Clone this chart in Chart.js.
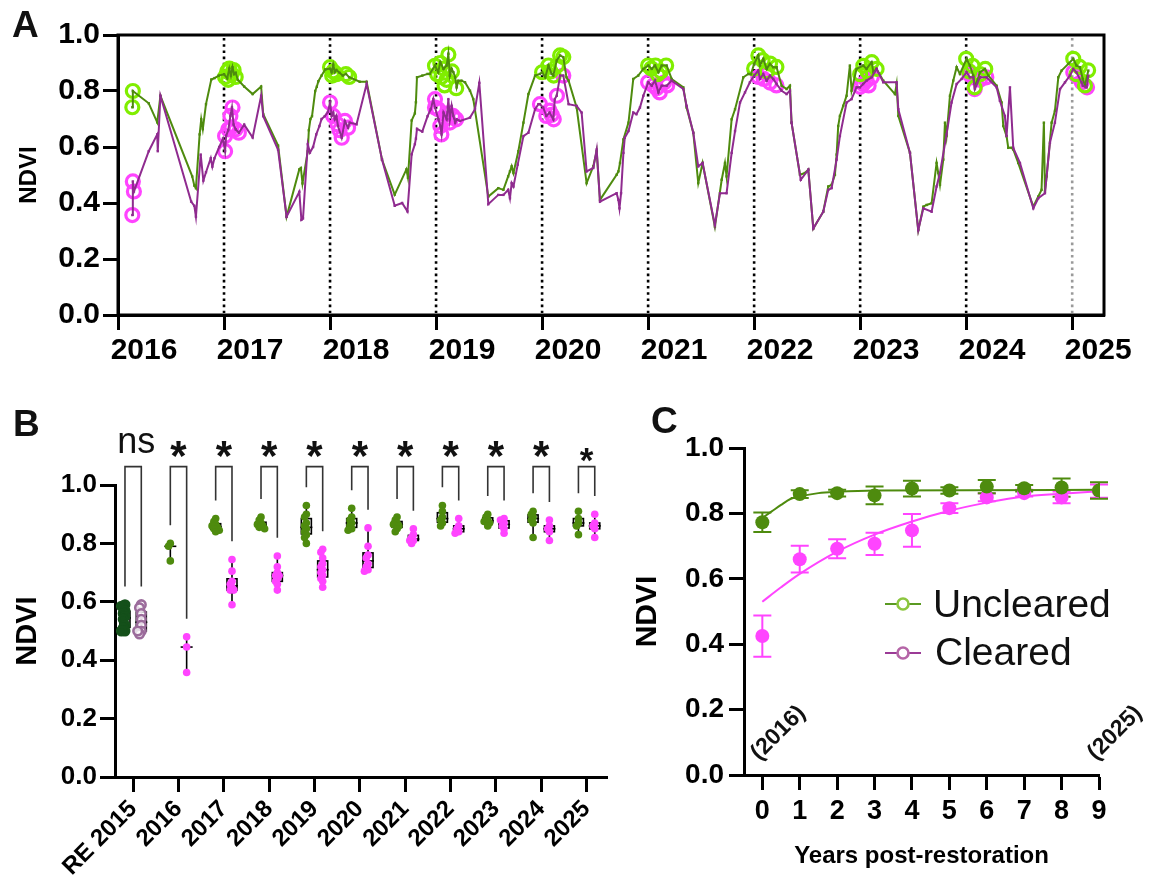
<!DOCTYPE html>
<html>
<head>
<meta charset="utf-8">
<title>NDVI recovery</title>
<script src="https://cdn.jsdelivr.net/npm/chart.js@4.4.1/dist/chart.umd.min.js"></script>
<style>
  html, body { margin:0; padding:0; background:#ffffff; }
  body { width:1157px; height:888px; position:relative; overflow:hidden; }
  canvas { position:absolute; display:block; }
</style>
</head>
<body>
<canvas id="chartA" width="1157" height="380" style="left:0;top:0;width:1157px;height:380px"></canvas>
<canvas id="chartB" width="615" height="508" style="left:0;top:380px;width:615px;height:508px"></canvas>
<canvas id="chartC" width="542" height="508" style="left:615px;top:380px;width:542px;height:508px"></canvas>
<script>
// ===================== DATA =====================
// Panel A – NDVI time series [decimal year, NDVI]
const unclearedSeries = [
  [2016.135,0.742],[2016.14,0.80],[2016.29,0.756],[2016.37,0.688],[2016.40,0.783],
  [2016.70,0.495],[2016.72,0.462],[2016.735,0.453],[2016.77,0.645],[2016.785,0.699],[2016.80,0.664],[2016.83,0.753],[2016.88,0.841],[2016.91,0.846],[2016.95,0.855],
  [2017.0,0.86],[2017.03,0.845],[2017.05,0.88],[2017.065,0.855],[2017.08,0.885],[2017.095,0.86],[2017.11,0.865],[2017.13,0.84],
  [2017.19,0.816],[2017.27,0.789],[2017.35,0.816],[2017.37,0.717],[2017.51,0.605],[2017.59,0.351],[2017.71,0.52],[2017.725,0.525],[2017.74,0.47],
  [2017.79,0.585],[2017.80,0.66],[2017.815,0.70],[2017.83,0.71],[2017.86,0.80],[2017.875,0.815],[2017.89,0.835],[2017.92,0.855],[2017.955,0.877],
  [2018.0,0.88],[2018.015,0.867],[2018.03,0.894],[2018.045,0.867],[2018.06,0.875],[2018.09,0.865],[2018.12,0.855],[2018.15,0.861],[2018.18,0.849],[2018.28,0.833],[2018.345,0.833],
  [2018.49,0.555],[2018.61,0.43],[2018.72,0.52],[2018.735,0.49],[2018.77,0.695],[2018.80,0.72],[2018.81,0.76],[2018.82,0.849],[2018.87,0.855],[2018.92,0.861],
  [2018.94,0.861],[2018.99,0.891],[2019.02,0.867],[2019.04,0.903],[2019.07,0.879],[2019.10,0.891],[2019.116,0.933],[2019.13,0.855],[2019.147,0.879],[2019.163,0.867],[2019.18,0.849],[2019.194,0.813],[2019.21,0.837],[2019.24,0.837],[2019.273,0.831],[2019.32,0.801],[2019.351,0.771],
  [2019.493,0.423],[2019.587,0.453],[2019.635,0.447],[2019.68,0.495],[2019.697,0.513],[2019.713,0.531],[2019.73,0.507],[2019.776,0.585],[2019.824,0.687],[2019.871,0.789],[2019.934,0.855],[2019.98,0.861],
  [2020.0,0.867],[2020.03,0.849],[2020.06,0.891],[2020.09,0.861],[2020.106,0.855],[2020.138,0.909],[2020.17,0.927],[2020.20,0.921],[2020.23,0.849],[2020.25,0.837],[2020.326,0.741],[2020.42,0.471],[2020.483,0.531],[2020.515,0.585],[2020.546,0.411],[2020.703,0.501],[2020.72,0.513],[2020.735,0.543],[2020.767,0.627],[2020.815,0.687],[2020.86,0.843],[2020.907,0.855],[2020.955,0.879],
  [2021.002,0.891],[2021.034,0.879],[2021.065,0.891],[2021.097,0.867],[2021.128,0.891],[2021.175,0.891],[2021.222,0.843],[2021.332,0.813],[2021.363,0.741],[2021.426,0.651],[2021.473,0.471],[2021.514,0.543],[2021.63,0.315],[2021.694,0.483],[2021.725,0.543],[2021.74,0.495],[2021.788,0.699],[2021.82,0.735],[2021.898,0.849],[2021.945,0.861],
  [2021.97,0.86],[2022.0,0.897],[2022.039,0.927],[2022.055,0.891],[2022.086,0.915],[2022.118,0.879],[2022.149,0.897],[2022.18,0.885],[2022.212,0.885],[2022.259,0.819],[2022.306,0.807],[2022.338,0.819],[2022.353,0.687],[2022.432,0.501],[2022.479,0.507],[2022.511,0.519],[2022.558,0.309],[2022.652,0.369],[2022.699,0.459],[2022.731,0.465],[2022.762,0.501],[2022.778,0.573],[2022.793,0.675],[2022.809,0.711],[2022.84,0.747],[2022.872,0.783],[2022.903,0.891],[2022.919,0.801],[2022.966,0.879],
  [2023.029,0.891],[2023.06,0.879],[2023.108,0.903],[2023.125,0.867],[2023.155,0.879],[2023.218,0.837],[2023.328,0.789],[2023.344,0.825],[2023.36,0.711],[2023.47,0.579],[2023.548,0.303],[2023.596,0.387],[2023.627,0.393],[2023.674,0.399],[2023.721,0.543],[2023.737,0.507],[2023.753,0.465],[2023.784,0.555],[2023.80,0.687],[2023.815,0.639],[2023.847,0.783],[2023.878,0.837],[2023.91,0.885],[2023.941,0.861],
  [2024.004,0.915],[2024.035,0.891],[2024.067,0.855],[2024.082,0.813],[2024.13,0.867],[2024.177,0.879],[2024.21,0.855],[2024.287,0.819],[2024.334,0.759],[2024.35,0.675],[2024.381,0.639],[2024.397,0.597],[2024.428,0.597],[2024.444,0.591],[2024.491,0.543],[2024.633,0.387],[2024.68,0.423],[2024.711,0.447],[2024.733,0.687],[2024.743,0.441],[2024.759,0.495],[2024.806,0.687],[2024.837,0.729],[2024.869,0.849],[2024.90,0.873],[2024.963,0.897],
  [2025.01,0.915],[2025.04,0.891],[2025.073,0.885],[2025.10,0.843],[2025.12,0.819],[2025.152,0.873]
];
const clearedSeries = [
  [2016.135,0.357],[2016.14,0.477],[2016.15,0.441],[2016.29,0.585],[2016.37,0.645],[2016.375,0.585],[2016.40,0.783],[2016.69,0.405],[2016.72,0.39],[2016.735,0.351],[2016.78,0.573],[2016.805,0.48],[2016.83,0.51],[2016.875,0.56],[2016.89,0.53],[2016.91,0.56],[2016.955,0.60],[2016.99,0.63],
  [2017.01,0.585],[2017.02,0.64],[2017.04,0.66],[2017.06,0.711],[2017.075,0.741],[2017.09,0.68],[2017.11,0.663],[2017.14,0.651],[2017.19,0.68],[2017.27,0.634],[2017.35,0.783],[2017.37,0.71],[2017.51,0.59],[2017.59,0.351],[2017.71,0.44],[2017.73,0.34],[2017.745,0.345],[2017.79,0.61],[2017.81,0.58],[2017.84,0.60],[2017.87,0.645],[2017.90,0.675],[2017.92,0.70],[2017.95,0.71],[2017.98,0.725],
  [2018.0,0.759],[2018.015,0.711],[2018.03,0.723],[2018.045,0.699],[2018.06,0.711],[2018.075,0.675],[2018.11,0.633],[2018.14,0.693],[2018.17,0.669],[2018.185,0.687],[2018.25,0.681],[2018.345,0.825],[2018.49,0.555],[2018.61,0.39],[2018.68,0.40],[2018.73,0.37],[2018.77,0.574],[2018.80,0.61],[2018.81,0.63],[2018.82,0.665],[2018.87,0.655],[2018.92,0.71],[2018.95,0.735],
  [2018.974,0.771],[2018.99,0.741],[2019.022,0.699],[2019.04,0.675],[2019.052,0.645],[2019.07,0.723],[2019.10,0.699],[2019.116,0.771],[2019.13,0.699],[2019.147,0.747],[2019.163,0.711],[2019.18,0.687],[2019.194,0.699],[2019.226,0.693],[2019.32,0.705],[2019.367,0.735],[2019.408,0.829],[2019.493,0.396],[2019.587,0.429],[2019.635,0.429],[2019.68,0.447],[2019.697,0.417],[2019.713,0.471],[2019.73,0.459],[2019.77,0.537],[2019.824,0.639],[2019.871,0.651],[2019.934,0.735],[2019.965,0.753],
  [2019.98,0.753],[2020.01,0.741],[2020.04,0.711],[2020.07,0.723],[2020.106,0.699],[2020.12,0.771],[2020.138,0.783],[2020.17,0.855],[2020.20,0.855],[2020.25,0.753],[2020.326,0.747],[2020.373,0.723],[2020.42,0.513],[2020.483,0.525],[2020.515,0.591],[2020.546,0.405],[2020.703,0.435],[2020.72,0.411],[2020.73,0.381],[2020.745,0.435],[2020.767,0.579],[2020.78,0.633],[2020.815,0.657],[2020.86,0.723],[2020.89,0.717],[2020.923,0.741],[2020.955,0.783],
  [2021.002,0.831],[2021.034,0.819],[2021.065,0.837],[2021.097,0.795],[2021.128,0.819],[2021.175,0.819],[2021.222,0.837],[2021.332,0.807],[2021.363,0.747],[2021.426,0.651],[2021.473,0.531],[2021.514,0.543],[2021.63,0.321],[2021.678,0.435],[2021.74,0.435],[2021.788,0.579],[2021.82,0.657],[2021.867,0.759],[2021.914,0.795],[2021.96,0.831],
  [2022.0,0.855],[2022.039,0.873],[2022.055,0.843],[2022.086,0.861],[2022.118,0.837],[2022.149,0.855],[2022.18,0.843],[2022.212,0.825],[2022.259,0.801],[2022.306,0.789],[2022.338,0.801],[2022.353,0.687],[2022.44,0.483],[2022.511,0.519],[2022.558,0.309],[2022.652,0.369],[2022.699,0.447],[2022.731,0.453],[2022.778,0.555],[2022.809,0.639],[2022.872,0.759],[2022.919,0.771],[2022.966,0.813],
  [2022.998,0.813],[2023.029,0.825],[2023.06,0.837],[2023.108,0.849],[2023.155,0.879],[2023.218,0.831],[2023.344,0.831],[2023.36,0.735],[2023.47,0.579],[2023.548,0.303],[2023.596,0.381],[2023.674,0.369],[2023.721,0.459],[2023.753,0.507],[2023.815,0.645],[2023.862,0.759],[2023.91,0.825],[2023.957,0.843],
  [2024.004,0.867],[2024.035,0.849],[2024.067,0.849],[2024.082,0.807],[2024.13,0.849],[2024.192,0.849],[2024.287,0.813],[2024.318,0.765],[2024.365,0.711],[2024.381,0.639],[2024.413,0.813],[2024.444,0.597],[2024.507,0.543],[2024.633,0.381],[2024.68,0.417],[2024.743,0.435],[2024.79,0.615],[2024.837,0.687],[2024.885,0.807],[2024.932,0.831],[2024.979,0.855],
  [2025.01,0.879],[2025.04,0.867],[2025.088,0.831],[2025.10,0.819],[2025.136,0.813],[2025.152,0.855]
];
// Highlighted (winter-peak) observations
const unclearedRings = [
  [2016.135,0.742],[2016.14,0.80],
  [2017.01,0.85],[2017.03,0.87],[2017.05,0.88],[2017.07,0.86],[2017.09,0.875],[2017.11,0.85],[2017.04,0.84],
  [2018.0,0.885],[2018.03,0.87],[2018.06,0.86],[2018.15,0.86],[2018.18,0.85],[2018.02,0.855],
  [2018.99,0.89],[2019.01,0.86],[2019.04,0.90],[2019.07,0.88],[2019.10,0.84],[2019.116,0.93],[2019.15,0.87],[2019.19,0.81],[2019.08,0.82],[2019.05,0.85],
  [2020.0,0.867],[2020.06,0.891],[2020.11,0.855],[2020.17,0.927],[2020.20,0.921],[2020.14,0.89],[2020.08,0.87],
  [2021.0,0.891],[2021.07,0.891],[2021.17,0.891],[2021.03,0.88],[2021.12,0.87],[2021.09,0.86],
  [2022.04,0.927],[2022.15,0.898],[2022.21,0.886],[2022.08,0.91],[2022.12,0.87],[2022.0,0.88],
  [2023.03,0.89],[2023.11,0.903],[2023.155,0.879],[2023.07,0.87],[2023.0,0.86],
  [2024.0,0.915],[2024.08,0.813],[2024.18,0.879],[2024.03,0.87],[2024.13,0.86],[2024.06,0.89],
  [2025.01,0.915],[2025.07,0.886],[2025.12,0.82],[2025.15,0.874],[2025.04,0.86]
];
const clearedRings = [
  [2016.135,0.357],[2016.14,0.477],[2016.15,0.441],
  [2017.01,0.585],[2017.01,0.639],[2017.06,0.711],[2017.08,0.741],[2017.11,0.663],[2017.14,0.651],[2017.04,0.663],[2017.07,0.67],
  [2018.0,0.759],[2018.11,0.633],[2018.17,0.669],[2018.03,0.711],[2018.14,0.693],[2018.07,0.681],[2018.09,0.66],
  [2018.99,0.771],[2019.04,0.675],[2019.05,0.645],[2019.16,0.711],[2019.19,0.699],[2019.02,0.735],[2019.13,0.687],[2018.99,0.741],[2019.09,0.70],[2019.11,0.72],
  [2019.98,0.753],[2020.04,0.711],[2020.11,0.699],[2020.14,0.783],[2020.20,0.855],[2020.07,0.73],[2020.09,0.715],
  [2021.0,0.831],[2021.05,0.82],[2021.11,0.795],[2021.18,0.82],[2021.15,0.83],[2021.08,0.81],
  [2022.04,0.85],[2022.09,0.843],[2022.15,0.83],[2022.21,0.82],[2022.12,0.86],
  [2023.03,0.825],[2023.06,0.837],[2023.11,0.849],[2023.08,0.82],[2023.0,0.815],
  [2024.07,0.849],[2024.19,0.849],[2024.08,0.807],[2024.03,0.86],[2024.13,0.84],
  [2025.09,0.831],[2025.14,0.813],[2025.04,0.855],[2025.01,0.867]
];
const yearMarkers = [2017,2018,2019,2020,2021,2022,2023,2024,2025];

// Panel B – per-year NDVI samples
const bCategories = ['RE 2015','2016','2017','2018','2019','2020','2021','2022','2023','2024','2025'];
const bUnclearedValues = [
  [0.59,0.585,0.57,0.56,0.55,0.54,0.52,0.51,0.50,0.50],
  [0.80,0.79,0.74],
  [0.885,0.875,0.865,0.86,0.855,0.85,0.845,0.84],
  [0.89,0.88,0.87,0.865,0.86,0.855,0.85,0.86],
  [0.93,0.90,0.89,0.87,0.86,0.85,0.84,0.83,0.82,0.80],
  [0.92,0.89,0.88,0.87,0.86,0.85,0.845],
  [0.89,0.88,0.87,0.865,0.86,0.85,0.84],
  [0.93,0.91,0.89,0.88,0.87,0.86],
  [0.90,0.89,0.88,0.875,0.87,0.86],
  [0.91,0.90,0.89,0.88,0.87,0.82],
  [0.91,0.885,0.87,0.86,0.83]
];
const bClearedValues = [
  [0.59,0.58,0.56,0.54,0.52,0.50,0.49,0.50],
  [0.48,0.445,0.358],
  [0.745,0.705,0.67,0.66,0.65,0.64,0.64,0.59],
  [0.757,0.72,0.70,0.69,0.69,0.68,0.67,0.66,0.64],
  [0.78,0.77,0.75,0.73,0.72,0.71,0.70,0.69,0.68,0.67,0.65],
  [0.853,0.79,0.76,0.75,0.73,0.72,0.71,0.705],
  [0.85,0.83,0.82,0.81,0.81,0.80],
  [0.885,0.86,0.85,0.84,0.835],
  [0.885,0.88,0.87,0.86,0.85,0.835],
  [0.88,0.86,0.85,0.84,0.81],
  [0.90,0.87,0.86,0.85,0.82]
];
const bSignificance = ['ns','*','*','*','*','*','*','*','*','*','*'];

// Panel C – means ± SEM and fitted curves
const cYears = [0,1,2,3,4,5,6,7,8,9];
const cUnclearedMean = [0.773,0.859,0.862,0.855,0.876,0.870,0.882,0.877,0.879,0.870];
const cUnclearedSem  = [0.030,0.012,0.010,0.027,0.024,0.010,0.020,0.010,0.028,0.025];
const cClearedMean   = [0.425,0.660,0.692,0.707,0.748,0.816,0.849,0.862,0.849,0.868];
const cClearedSem    = [0.063,0.041,0.029,0.034,0.050,0.015,0.012,0.010,0.018,0.020];
const cFitUnclearedX = [0,0.25,0.5,0.75,1,1.5,2,3,9];
const cFitUncleared  = [0.786,0.806,0.826,0.844,0.852,0.862,0.866,0.870,0.872];
const cFitClearedX   = [0,0.5,1,2,3,4,5,6,7,8,9];
const cFitCleared    = [0.530,0.574,0.615,0.683,0.735,0.775,0.808,0.833,0.852,0.860,0.868];
const cYearNotes = [[0,'(2016)'],[9,'(2025)']];

// ===================== STYLE =====================
const FONT = "'Liberation Sans', Arial, Helvetica, sans-serif";
const GREEN = '#4e8b0e';
const PURPLE = '#8f2b8f';
const LIME = '#80ee00';
const MAGENTA = '#ff44ff';
const RE_GREEN = '#14501a';
const RE_MAUVE = '#9b6b9b';

Chart.defaults.font.family = FONT;
Chart.defaults.color = '#000';
Chart.defaults.animation = false;

const pts = arr => arr.map(([x, y]) => ({x, y}));
const gridStyle = {display:true, drawOnChartArea:false, drawTicks:true, tickLength:15, tickWidth:3, tickColor:'#000'};
const borderStyle = {display:true, width:3, color:'#000'};

function letterPlugin(ch, x, y) {
  return { id:'letter'+ch, afterDraw(chart) {
    const ctx = chart.ctx; ctx.save();
    ctx.fillStyle = '#111'; ctx.font = `bold 37px ${FONT}`;
    ctx.textAlign = 'left'; ctx.textBaseline = 'alphabetic';
    ctx.fillText(ch, x, y); ctx.restore();
  }};
}

// ===================== PANEL A =====================
const yearLinesPlugin = { id:'yearLines', beforeDatasetsDraw(chart) {
  const {ctx, chartArea:ca, scales:{x}} = chart;
  ctx.save(); ctx.lineWidth = 2.6; ctx.setLineDash([2.6, 3.6]); ctx.lineCap = 'butt';
  yearMarkers.forEach((yr, i) => {
    const px = x.getPixelForValue(yr);
    ctx.strokeStyle = (i === yearMarkers.length - 1) ? '#9a9a9a' : '#000';
    ctx.beginPath(); ctx.moveTo(px, ca.top + 3); ctx.lineTo(px, ca.bottom - 2); ctx.stroke();
  });
  ctx.restore();
}};
const framePlugin = { id:'frame', afterDraw(chart) {
  const {ctx, chartArea:ca} = chart; ctx.save();
  ctx.strokeStyle = '#000'; ctx.lineWidth = 3;
  ctx.strokeRect(ca.left, ca.top, ca.right - ca.left, ca.bottom - ca.top);
  ctx.restore();
}};

new Chart(document.getElementById('chartA'), {
  type: 'line',
  data: { datasets: [
    {label:'Cleared', data: pts(clearedSeries), borderColor: PURPLE, borderWidth: 2, pointRadius: 1.7, pointStyle:'rect', pointBorderWidth: 0, pointBackgroundColor: PURPLE, fill:false, tension:0},
    {label:'Uncleared', data: pts(unclearedSeries), borderColor: GREEN, borderWidth: 2, pointRadius: 1.7, pointStyle:'rect', pointBorderWidth: 0, pointBackgroundColor: GREEN, fill:false, tension:0},
    {label:'Uncleared peak', data: pts(unclearedRings), showLine:false, pointRadius: 6.5, pointBorderWidth: 3.2, pointBorderColor: LIME, pointBackgroundColor:'rgba(0,0,0,0)'},
    {label:'Cleared peak', data: pts(clearedRings), showLine:false, pointRadius: 6.5, pointBorderWidth: 3.2, pointBorderColor: MAGENTA, pointBackgroundColor:'rgba(0,0,0,0)'}
  ]},
  options: {
    responsive:false, animation:false, events:[],
    layout:{autoPadding:false, padding:{left:0, right:53, top:35, bottom:0}},
    plugins:{legend:{display:false}, tooltip:{enabled:false}},
    scales:{
      x:{type:'linear', min:2016, max:2025.3, afterFit: s => { s.height = 65; },
         border: borderStyle, grid: gridStyle,
         ticks:{stepSize:1, includeBounds:false, autoSkip:false, maxRotation:0, minRotation:0, labelOffset:26, padding:3,
                font:{size:30, weight:'bold'}, callback: v => Number.isInteger(v) ? String(v) : ''}},
      y:{type:'linear', min:0, max:1, afterFit: s => { s.width = 118; },
         border: borderStyle, grid: gridStyle,
         ticks:{stepSize:0.2, padding:3, font:{size:30, weight:'bold'}, callback: v => Number(v).toFixed(1)},
         title:{display:true, text:'NDVI', font:{size:24, weight:'bold'}, padding:{top:15, bottom:0}}}
    }
  },
  plugins:[yearLinesPlugin, framePlugin, letterPlugin('A', 12, 37)]
});

// ===================== PANEL B =====================
const B_OFF = 0.18;
const B_PX_PER_X = 45.3, B_PX_PER_Y = 292, B_R = 3.8;
function swarm(values, center) {
  const placed = [];
  return values.map(v => {
    const cands = [0, -1, 1, -2, 2];
    let chosen = 0;
    for (const c of cands) {
      const dx = c * 1.8;
      const ok = placed.every(p => Math.hypot(p.dx - dx, (p.v - v) * B_PX_PER_Y) >= 3.2);
      if (ok) { chosen = dx; break; }
    }
    placed.push({dx: chosen, v});
    return {x: center + chosen / B_PX_PER_X, y: v};
  });
}
function quantile(sorted, p) {
  const n = sorted.length;
  const pos = p * (n - 1);
  const lo = Math.floor(pos), hi = Math.ceil(pos);
  return sorted[lo] + (sorted[hi] - sorted[lo]) * (pos - lo);
}
const BR_TOP = 1.063, BR_GAP = 0.062;

const bGreenPts = [], bPinkPts = [];
for (let i = 1; i < bCategories.length; i++) {
  bGreenPts.push(...swarm(bUnclearedValues[i], i - B_OFF));
  bPinkPts.push(...swarm(bClearedValues[i], i + B_OFF));
}
const bDatasets = [
  {label:'Uncleared', data: bGreenPts, pointRadius: B_R, pointBorderWidth:0, pointBackgroundColor: GREEN},
  {label:'Cleared', data: bPinkPts, pointRadius: B_R, pointBorderWidth:0, pointBackgroundColor: MAGENTA},
  {label:'RE Uncleared', data: swarm(bUnclearedValues[0], -B_OFF), pointRadius: 4.3, pointBorderWidth: 2.4, pointBorderColor: RE_GREEN, pointBackgroundColor: RE_GREEN},
  {label:'RE Cleared', data: swarm(bClearedValues[0], B_OFF), pointRadius: 4.3, pointBorderWidth: 2.6, pointBorderColor: RE_MAUVE, pointBackgroundColor:'rgba(255,255,255,0.75)'}
];
bCategories.forEach((c, i) => {
  const gMax = Math.max(...bUnclearedValues[i]), pMax = Math.max(...bClearedValues[i]);
  bDatasets.push({label:'bracket '+c, showLine:true, clip:false, pointRadius:0, borderColor:'#333', borderWidth:1.6,
    data:[{x:i-B_OFF, y:gMax+BR_GAP}, {x:i-B_OFF, y:BR_TOP}, {x:i+B_OFF, y:BR_TOP}, {x:i+B_OFF, y:pMax+BR_GAP}]});
});

const boxPlugin = { id:'boxes', beforeDatasetsDraw(chart) {
  const {ctx, scales:{x, y}} = chart;
  ctx.save(); ctx.strokeStyle = '#000'; ctx.lineWidth = 1.6;
  bCategories.forEach((c, i) => {
    [[bUnclearedValues[i], i - B_OFF], [bClearedValues[i], i + B_OFF]].forEach(([vals, cx]) => {
      const s = vals.slice().sort((a, b) => a - b);
      const q1 = quantile(s, 0.25), med = quantile(s, 0.5), q3 = quantile(s, 0.75);
      const px = x.getPixelForValue(cx), half = 5;
      const yq1 = y.getPixelForValue(q1), yq3 = y.getPixelForValue(q3), ym = y.getPixelForValue(med);
      ctx.beginPath();
      ctx.moveTo(px, y.getPixelForValue(s[0])); ctx.lineTo(px, y.getPixelForValue(s[s.length - 1]));
      ctx.stroke();
      if (s.length > 3) {
        ctx.fillStyle = '#fff';
        ctx.fillRect(px - half, yq3, 2 * half, yq1 - yq3);
        ctx.strokeRect(px - half, yq3, 2 * half, yq1 - yq3);
      }
      ctx.beginPath(); ctx.moveTo(px - half - 1, ym); ctx.lineTo(px + half + 1, ym); ctx.stroke();
    });
  });
  ctx.restore();
}};
const starPlugin = { id:'stars', afterDraw(chart) {
  const {ctx, scales:{x, y}} = chart;
  ctx.save(); ctx.fillStyle = '#111'; ctx.textAlign = 'center'; ctx.textBaseline = 'alphabetic';
  bSignificance.forEach((s, i) => {
    const px = x.getPixelForValue(i);
    if (s === 'ns') {
      ctx.font = `36px ${FONT}`;
      ctx.fillText(s, px + 3, y.getPixelForValue(1.11));
    } else {
      const last = i === bSignificance.length - 1;
      ctx.font = `bold ${last ? 35 : 42}px ${FONT}`;
      ctx.fillText(s, px, y.getPixelForValue(last ? 1.045 : 1.052));
    }
  });
  ctx.restore();
}};

new Chart(document.getElementById('chartB'), {
  type:'scatter',
  data:{datasets: bDatasets},
  options:{
    responsive:false, animation:false, events:[],
    layout:{autoPadding:false, padding:{left:0, right:8, top:105, bottom:0}},
    plugins:{legend:{display:false}, tooltip:{enabled:false}},
    scales:{
      x:{type:'linear', min:-0.4, max:10.45, afterFit: s => { s.height = 111; },
         border: borderStyle, grid: gridStyle,
         ticks:{stepSize:1, includeBounds:false, autoSkip:false, minRotation:45, maxRotation:45, padding:3,
                font:{size:24, weight:'bold'}, callback: v => { const k = Math.round(v); return Math.abs(v-k) < 1e-6 && bCategories[k] ? bCategories[k] : ''; }}},
      y:{type:'linear', min:0, max:1, afterFit: s => { s.width = 115; },
         border: borderStyle, grid: gridStyle,
         ticks:{stepSize:0.2, padding:3, font:{size:26, weight:'bold'}, callback: v => Number(v).toFixed(1)},
         title:{display:true, text:'NDVI', font:{size:29, weight:'bold'}, padding:{top:11, bottom:0}}}
    }
  },
  plugins:[boxPlugin, starPlugin, letterPlugin('B', 13, 56)]
});

// ===================== PANEL C =====================
const errorBarPlugin = { id:'errbars', beforeDatasetsDraw(chart) {
  const {ctx, scales:{x, y}} = chart;
  ctx.save(); ctx.lineWidth = 2;
  [[cClearedMean, cClearedSem, MAGENTA], [cUnclearedMean, cUnclearedSem, GREEN]].forEach(([m, e, col]) => {
    ctx.strokeStyle = col;
    cYears.forEach((yr, i) => {
      const px = x.getPixelForValue(yr), y1 = y.getPixelForValue(m[i] - e[i]), y2 = y.getPixelForValue(m[i] + e[i]);
      ctx.beginPath();
      ctx.moveTo(px, y1); ctx.lineTo(px, y2);
      ctx.moveTo(px - 9, y1); ctx.lineTo(px + 9, y1);
      ctx.moveTo(px - 9, y2); ctx.lineTo(px + 9, y2);
      ctx.stroke();
    });
  });
  ctx.restore();
}};
const cLegendPlugin = { id:'clegend', afterDraw(chart) {
  const {ctx, scales:{x, y}} = chart;
  ctx.save();
  const items = [
    {text:'Uncleared', line:'#5a9a22', ring:'#8cc63f', cy:224, tx:318, base:237},
    {text:'Cleared', line:'#9b3a96', ring:'#b565a7', cy:273, tx:320, base:285}
  ];
  items.forEach(it => {
    ctx.strokeStyle = it.line; ctx.lineWidth = 2;
    ctx.beginPath(); ctx.moveTo(270, it.cy); ctx.lineTo(306, it.cy); ctx.stroke();
    ctx.beginPath(); ctx.arc(288, it.cy, 5.5, 0, Math.PI * 2);
    ctx.fillStyle = '#fff'; ctx.fill(); ctx.strokeStyle = it.ring; ctx.lineWidth = 2.6; ctx.stroke();
    ctx.fillStyle = '#111'; ctx.font = `39px ${FONT}`; ctx.textAlign = 'left'; ctx.textBaseline = 'alphabetic';
    ctx.fillText(it.text, it.tx, it.base);
  });
  ctx.fillStyle = '#111'; ctx.font = `bold 23px ${FONT}`;
  cYearNotes.forEach(([v, t]) => {
    const px = x.getPixelForValue(v) - 3, py = y.getPixelForValue(0) - 14;
    ctx.save(); ctx.translate(px, py); ctx.rotate(-Math.PI / 4);
    ctx.textAlign = 'left'; ctx.textBaseline = 'alphabetic'; ctx.fillText(t, 0, 0); ctx.restore();
  });
  ctx.restore();
}};

new Chart(document.getElementById('chartC'), {
  type:'scatter',
  data:{datasets:[
    {label:'Uncleared', data: cYears.map((v, i) => ({x:v, y:cUnclearedMean[i]})), pointRadius:7, pointBorderWidth:0, pointBackgroundColor: GREEN},
    {label:'Cleared', data: cYears.map((v, i) => ({x:v, y:cClearedMean[i]})), pointRadius:7, pointBorderWidth:0, pointBackgroundColor: MAGENTA},
    {label:'Uncleared fit', data: cFitUnclearedX.map((v, i) => ({x:v, y:cFitUncleared[i]})), showLine:true, pointRadius:0, borderColor: GREEN, borderWidth:2, cubicInterpolationMode:'monotone'},
    {label:'Cleared fit', data: cFitClearedX.map((v, i) => ({x:v, y:cFitCleared[i]})), showLine:true, pointRadius:0, borderColor: MAGENTA, borderWidth:2, cubicInterpolationMode:'monotone'}
  ]},
  options:{
    responsive:false, animation:false, events:[],
    layout:{autoPadding:false, padding:{left:0, right:58, top:68, bottom:0}},
    plugins:{legend:{display:false}, tooltip:{enabled:false}},
    scales:{
      x:{type:'linear', min:-0.49, max:9, afterFit: s => { s.height = 113; },
         border: borderStyle, grid: gridStyle,
         ticks:{stepSize:1, includeBounds:false, autoSkip:false, maxRotation:0, minRotation:0, padding:5,
                font:{size:27, weight:'bold'}, callback: v => Number.isInteger(v) ? String(v) : ''},
         title:{display:true, text:'Years post-restoration', font:{size:24, weight:'bold'}, padding:{top:0, bottom:17}}},
      y:{type:'linear', min:0, max:1, afterFit: s => { s.width = 129; },
         border: borderStyle, grid: gridStyle,
         ticks:{stepSize:0.2, padding:5, font:{size:28, weight:'bold'}, callback: v => Number(v).toFixed(1)},
         title:{display:true, text:'NDVI', font:{size:30, weight:'bold'}, padding:{top:15, bottom:0}}}
    }
  },
  plugins:[errorBarPlugin, cLegendPlugin, letterPlugin('C', 36, 53)]
});
</script>
</body>
</html>
